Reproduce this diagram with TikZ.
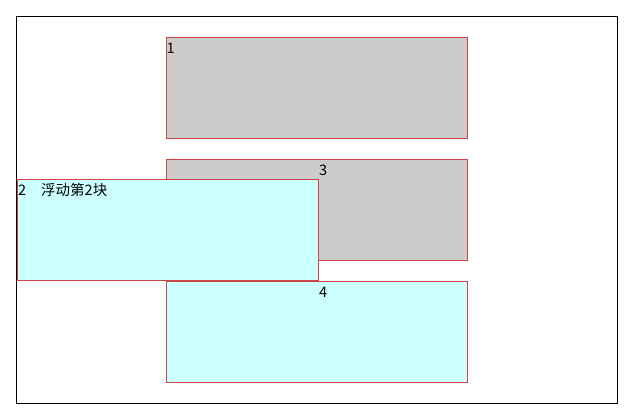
\documentclass[tikz,border=0pt]{standalone}
\usepackage{fontspec}
\usepackage{xcolor}
\usepackage{tikz}
\usetikzlibrary{positioning}
\setmainfont{Liberation Serif}
\newfontfamily\cjk{Noto Sans CJK SC}

\definecolor{blockred}{RGB}{204,68,68}
\definecolor{blockgray}{RGB}{204,204,204}
\definecolor{blockcyan}{RGB}{204,255,255}

\tikzset{
  frame/.style={draw=black, line width=1pt, inner sep=0pt, outer sep=0pt,
    minimum width=601pt, minimum height=387pt, anchor=north west},
  block/.style={draw=blockred, line width=1pt, inner sep=0pt, outer sep=0pt,
    minimum width=301pt, minimum height=101pt, anchor=north west},
  grayblock/.style={block, fill=blockgray},
  cyanblock/.style={block, fill=blockcyan},
  blocktext/.style={anchor=base west, inner sep=0pt, font=\cjk\fontsize{14.5pt}{17pt}\selectfont}
}

\begin{document}
\begin{tikzpicture}[x=1pt,y=-1pt]
\useasboundingbox (0,0) rectangle (627,411);

\node[frame] (page) at (16.5,16.5) {};

\node[grayblock] (first) at (166.5,37.5) {};
\node[grayblock] (third) at (166.5,159.5) {};
\node[cyanblock] (fourth) at (166.5,281.5) {};
\node[cyanblock] (second) at (17.5,179.5) {};

% labels sit 16pt below the top edge of each block
\node[blocktext] (firstlabel) at ([shift={(0,16)}]first.north west) {1};
\node[blocktext] (secondlabel) at ([shift={(0.5,16)}]second.north west) {2\hspace{15pt}浮动第2块};
\node[blocktext] (thirdlabel) at ([shift={(0.5,16)}]second.east |- third.north) {3};
\node[blocktext] (fourthlabel) at ([shift={(0.5,16)}]second.east |- fourth.north) {4};
\end{tikzpicture}
\end{document}
